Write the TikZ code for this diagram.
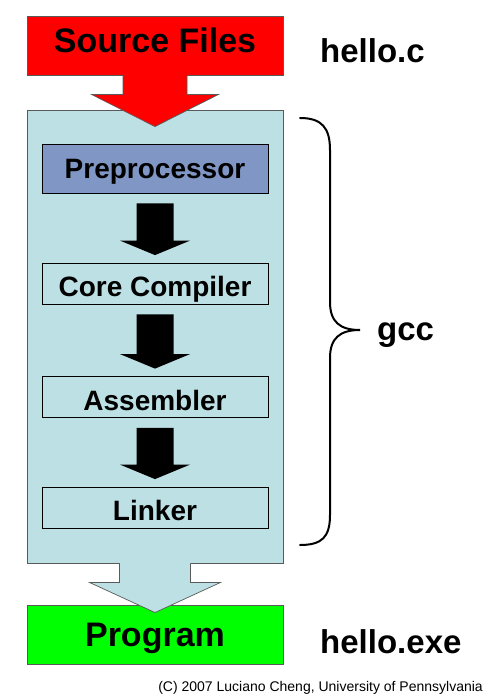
\documentclass[tikz,border=0pt]{standalone}
\usepackage{fontspec}
\setmainfont{Liberation Sans}
\usetikzlibrary{calc}
\definecolor{srcred}{RGB}{255,0,0}
\definecolor{gccblue}{RGB}{188,224,228}
\definecolor{preblue}{RGB}{128,150,196}
\definecolor{prggreen}{RGB}{0,255,0}
\definecolor{edgegray}{RGB}{90,90,90}
\tikzset{
  bigbox/.style={draw=edgegray, line width=0.9bp, minimum width=256bp, inner sep=0pt,
    font=\fontsize{34bp}{36bp}\selectfont\bfseries, text height=24.5bp, text depth=0pt},
  stagebox/.style={draw=black, line width=0.8bp, minimum width=226bp, minimum height=41bp, inner sep=0pt,
    font=\fontsize{28bp}{30bp}\selectfont\bfseries, text height=26bp, text depth=0pt},
  blockarrow/.style={line width=0.7bp, line join=miter},
  sidelabel/.style={font=\fontsize{33bp}{36bp}\selectfont\bfseries, inner sep=0pt},
}
\begin{document}
\begin{tikzpicture}[x=1bp, y=-1bp]
\useasboundingbox (0,0) rectangle (492,698);
\fill[white] (0,0) rectangle (492,698);
% big container
\node[draw=edgegray, fill=gccblue, line width=0.9bp, minimum width=256bp, minimum height=453bp, inner sep=0pt] (gcc) at (155,336.5) {};
% source files
\node[bigbox, fill=srcred, minimum height=59bp, text depth=10bp] (src) at (155,45.5) {Source Files};
% red arrow from source to gcc box
\filldraw[blockarrow, draw=edgegray, fill=srcred]
  ($(src.south)+(-32,0)$) -- ($(src.south)+(-32,19)$) -- ($(src.south)+(-63.5,19)$)
  -- ($(gcc.north)+(0,17)$)
  -- ($(src.south)+(63.5,19)$) -- ($(src.south)+(32,19)$) -- ($(src.south)+(32,0)$);
\fill[srcred] ($(src.south)+(-31.5,-1)$) rectangle ($(src.south)+(31.5,0.8)$);
% stages
\node[stagebox, fill=preblue, minimum height=49bp, text height=20bp] (pre) at (155,168.5) {Preprocessor};
\node[stagebox, fill=gccblue] (core) at (155,283.5) {Core Compiler};
\node[stagebox, fill=gccblue] (asm) at (155,397) {Assembler};
\node[stagebox, fill=gccblue] (lnk) at (155,507.5) {Linker};
% black arrows between stages
\foreach \a/\b in {pre/core, core/asm, asm/lnk}{
  \fill[black]
    ($(\a.south)+(-18.5,10)$) -- ($(\b.north)+(-18.5,-22)$) -- ($(\b.north)+(-35,-22)$)
    -- ($(\b.north)+(0,-7.5)$)
    -- ($(\b.north)+(35,-22)$) -- ($(\b.north)+(18.5,-22)$) -- ($(\a.south)+(18.5,10)$) -- cycle;
}
% program
\node[bigbox, fill=prggreen, minimum height=59bp] (prg) at (155,634.5) {Program};
% blue arrow from gcc to program
\filldraw[blockarrow, draw=edgegray, fill=gccblue]
  ($(gcc.south)+(-35.5,0)$) -- ($(gcc.south)+(-35.5,19)$) -- ($(gcc.south)+(-65.5,19)$)
  -- ($(prg.north)+(0,8)$)
  -- ($(gcc.south)+(65.5,19)$) -- ($(gcc.south)+(35.5,19)$) -- ($(gcc.south)+(35.5,0)$);
\fill[gccblue] ($(gcc.south)+(-35,-1)$) rectangle ($(gcc.south)+(35,0.8)$);
% brace
\coordinate (bt) at (300,118);
\coordinate (btip) at (360,330);
\coordinate (bb) at (300,545);
\draw[line width=2bp, line cap=round]
  (bt) .. controls (322,118) and (330,128) .. (330,150) -- (330,302)
  .. controls (330,322) and (340,330) .. (btip)
  .. controls (340,330) and (330,338) .. (330,358) -- (330,515)
  .. controls (330,537) and (322,545) .. (bb);
% labels
\node[sidelabel, anchor=base west] (gcclbl) at (377,340) {gcc};
\node[sidelabel, anchor=base west] (srclbl) at (320,63) {hello.c};
\node[sidelabel, anchor=base west] (prglbl) at (320,653) {hello.exe};
\node[anchor=base east, inner sep=0pt, font=\fontsize{14bp}{16bp}\selectfont] (copy) at (483,691) {(C) 2007 Luciano Cheng, University of Pennsylvania};
\end{tikzpicture}
\end{document}
